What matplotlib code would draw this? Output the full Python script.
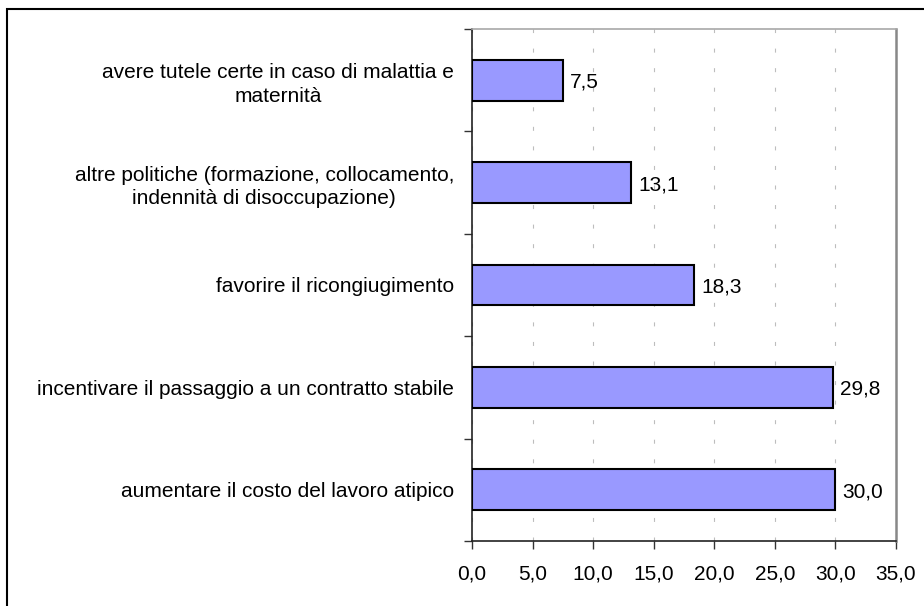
import numpy as np
import matplotlib
matplotlib.use("Agg")
import matplotlib.pyplot as plt
from matplotlib.patches import Rectangle

# Categories (bottom to top) and values
categorie = [
    "aumentare il costo del lavoro atipico",
    "incentivare il passaggio a un contratto stabile",
    "favorire il ricongiugimento",
    "altre politiche (formazione, collocamento,\nindennità di disoccupazione)",
    "avere tutele certe in caso di malattia e\nmaternità",
]
valori = [30.0, 29.8, 18.3, 13.1, 7.5]
xticks = [0, 5, 10, 15, 20, 25, 30, 35]

plt.rcParams['font.family'] = ['Liberation Sans', 'DejaVu Sans']
fs = 15

fig = plt.figure(figsize=(9.24, 6.06), dpi=100)
ax = fig.add_axes([472 / 924, 1 - 541 / 606, (896 - 472) / 924, (541 - 29) / 606])

y = np.arange(len(categorie))
ax.barh(y, valori, height=0.40, color='#9999FF', edgecolor='black', linewidth=1.5, zorder=3)

# Data labels
for yi, v in zip(y, valori):
    ax.text(v + 0.6, yi - 0.02, f"{v:.1f}".replace('.', ','), va='center', ha='left', fontsize=fs)

ax.set_xlim(0, 35)
ax.set_ylim(-0.5, len(categorie) - 0.5)
ax.set_xticks(xticks)
ax.set_xticklabels([f"{t:.1f}".replace('.', ',') for t in xticks], fontsize=fs)
ax.set_yticks(y)
ax.set_yticklabels(categorie, fontsize=fs, multialignment='center', linespacing=1.3)
ax.set_yticks(np.arange(-0.5, len(categorie), 1), minor=True)

ax.tick_params(axis='y', which='major', length=0, pad=13)
ax.tick_params(axis='y', which='minor', length=6, width=1, direction='out', color='#333333')
ax.tick_params(axis='x', length=6, width=1, direction='out', pad=11, color='#333333')

# Dashed vertical gridlines
ax.grid(axis='x', color='#bdbdbd', linestyle=(0, (3.6, 14)), linewidth=0.8, zorder=0)

ax.spines['top'].set_color('#a8a8a8')
ax.spines['top'].set_linewidth(1.2)
ax.spines['right'].set_color('#888888')
ax.spines['right'].set_linewidth(1.8)
for s in ['left', 'bottom']:
    ax.spines[s].set_color('#222222')
    ax.spines[s].set_linewidth(1.2)

# Outer chart border (runs off the right and bottom edges)
fig.patches.append(Rectangle((7.5 / 924, -0.05), 1.0, 1.05 - 9 / 606,
                             transform=fig.transFigure, fill=False,
                             edgecolor='black', linewidth=1.5))

fig.savefig("out.png", dpi=100)
